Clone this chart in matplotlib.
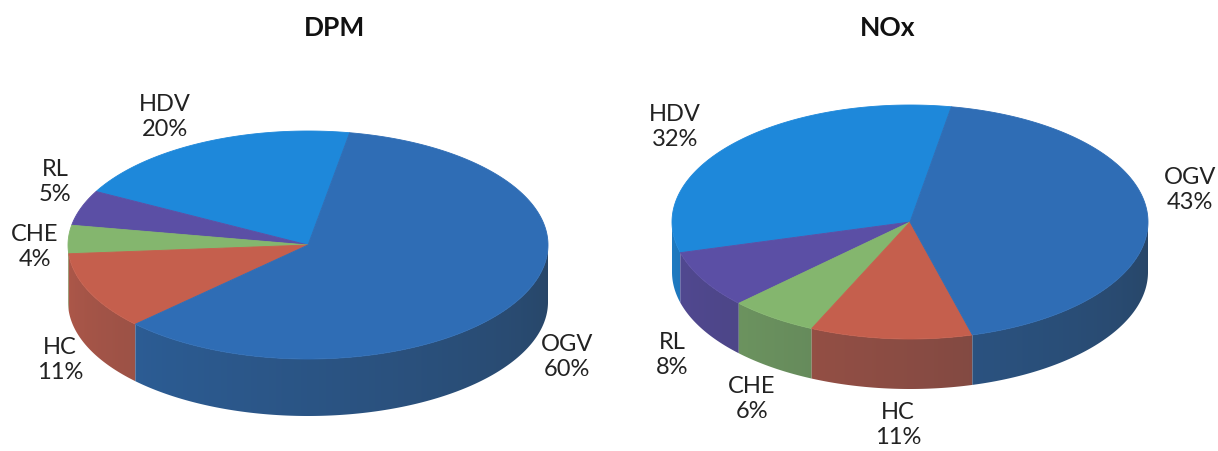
import numpy as np
import matplotlib
matplotlib.use("Agg")
import matplotlib.pyplot as plt
from matplotlib.patches import Polygon
from matplotlib.colors import to_rgb

# ---- data ----
categories = ["HDV", "RL", "CHE", "HC", "OGV"]
dpm_values = [20, 5, 4, 11, 60]
nox_values = [32, 8, 6, 11, 43]
titles = ["DPM", "NOx"]
slice_colors = ["#1E88DA", "#5B4FA5", "#84B66E", "#C55F4D", "#2F6DB5"]

# ---- layout (pixels) ----
W, H = 1218, 452
pies = [
    dict(cx=308, cy=246, rx=240, ry=114, depth=57, title_xy=(335, 28),
         label_xy=[(165, 117), (55, 182), (35, 247), (60, 360), (567, 357)]),
    dict(cx=910, cy=223, rx=238, ry=117, depth=50, title_xy=(888, 28),
         label_xy=[(675, 127), (672, 355), (752, 399), (898, 425), (1190, 190)]),
]
start_angle = 80.0
FONT = ["Lato", "DejaVu Sans"]

fig = plt.figure(figsize=(W / 100, H / 100), dpi=100)
ax = fig.add_axes([0, 0, 1, 1])
ax.set_xlim(0, W)
ax.set_ylim(H, 0)
ax.axis("off")

dark = np.array([0.14, 0.17, 0.20])


def pt(g, th, dy=0.0):
    r = np.deg2rad(th)
    return g["cx"] + g["rx"] * np.cos(r), g["cy"] - g["ry"] * np.sin(r) + dy


def draw_pie(g, values, title):
    total = float(sum(values))
    spans = []
    a = start_angle
    for v in values:
        b = a + 360.0 * v / total
        spans.append((a, b))
        a = b
    # sides (front half only), shaded by a horizontal gradient
    for (a0, a1), col in zip(spans, slice_colors):
        base = np.array(to_rgb(col))
        for k in (-360, 0, 360):
            lo, hi = max(a0, 180 + k), min(a1, 360 + k)
            if hi <= lo:
                continue
            ths = np.linspace(lo, hi, max(4, int(hi - lo) * 2))
            top = [pt(g, t) for t in ths]
            bot = [pt(g, t, g["depth"]) for t in ths[::-1]]
            poly = Polygon(top + bot, closed=True, facecolor="none",
                           edgecolor="none")
            ax.add_patch(poly)
            xs = [p[0] for p in top]
            ys = [p[1] for p in top + bot]
            x0, x1 = min(xs) - 1, max(xs) + 1
            y0, y1 = min(ys) - 1, max(ys) + 1
            ncol = max(2, int(x1 - x0))
            xc = np.linspace(x0, x1, ncol)
            cosv = np.clip((xc - g["cx"]) / g["rx"], -1, 1)
            tpos = np.degrees(np.arccos(cosv))  # 180 at left, 0 at right
            tnorm = 1 - tpos / 180.0
            w = 0.14 + 0.46 * tnorm
            img = base[None, :] * (1 - w[:, None]) + dark[None, :] * w[:, None]
            img = np.repeat(img[None, :, :], 2, axis=0)
            im = ax.imshow(img, extent=(x0, x1, y1, y0), aspect="auto",
                           interpolation="bilinear", zorder=1)
            im.set_clip_path(poly)
    # top faces
    for (a0, a1), col in zip(spans, slice_colors):
        ths = np.linspace(a0, a1, max(3, int(a1 - a0)))
        poly = [(g["cx"], g["cy"])] + [pt(g, t) for t in ths]
        ax.add_patch(Polygon(poly, closed=True, facecolor=col,
                             edgecolor=col, linewidth=0.6, zorder=2))
    # labels
    for cat, v, xy in zip(categories, values, g["label_xy"]):
        ax.text(xy[0], xy[1], f"{cat}\n{v}%", ha="center", va="center",
                fontsize=17, family=FONT, color="#222222", linespacing=1.25,
                zorder=3)
    ax.text(g["title_xy"][0], g["title_xy"][1], title, ha="center", va="center",
            fontsize=19, fontweight="bold", family=FONT, color="#111111",
            zorder=3)


draw_pie(pies[0], dpm_values, titles[0])
draw_pie(pies[1], nox_values, titles[1])

ax.set_xlim(0, W)
ax.set_ylim(H, 0)
fig.savefig("out.png", dpi=100, facecolor="white")
